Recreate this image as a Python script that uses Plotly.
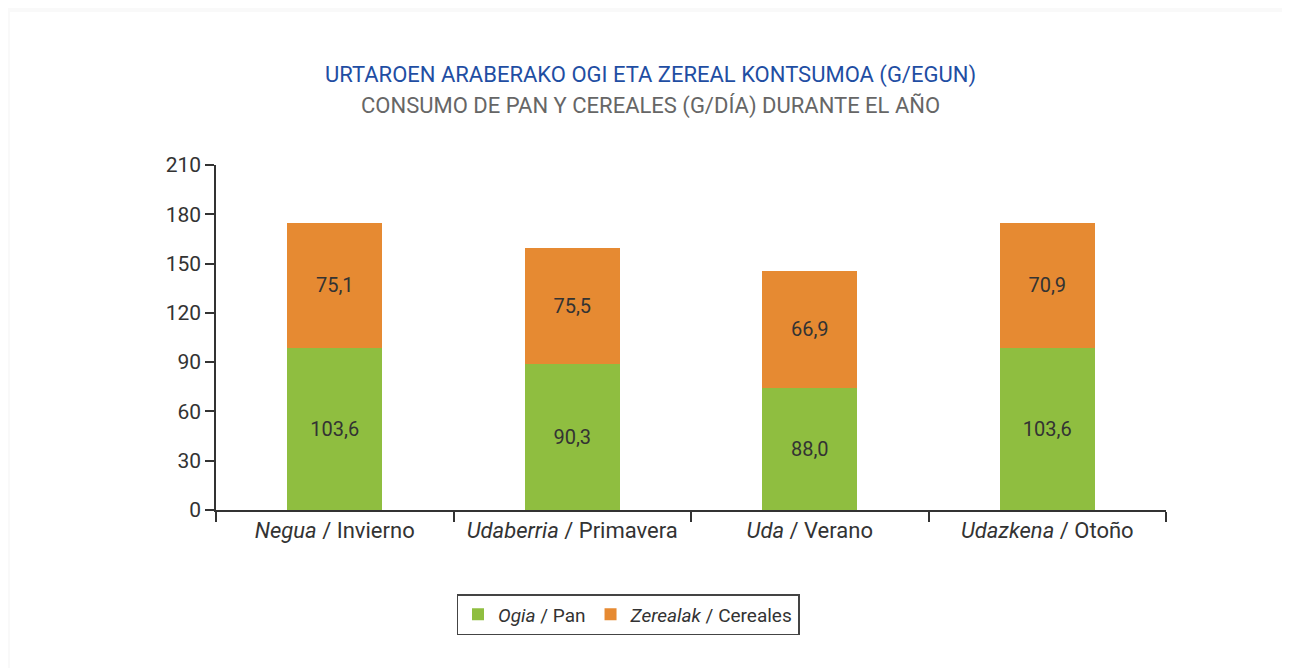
import plotly.graph_objects as go

categories = ["Negua", "Udaberria", "Uda", "Udazkena"]
categories_es = ["Invierno", "Primavera", "Verano", "Otoño"]
# bar heights as drawn in the picture
pan_values = [98.8, 89.0, 74.4, 98.8]
cereales_values = [76.1, 70.5, 71.1, 76.1]
# printed labels
pan_labels = ["103,6", "90,3", "88,0", "103,6"]
cereales_labels = ["75,1", "75,5", "66,9", "70,9"]
y_ticks = [0, 30, 60, 90, 120, 150, 180, 210]

GREEN = "#8fbe40"
ORANGE = "#e68a32"
FONT = "Roboto"

OFF = 8  # page body margin
W, H = 1290, 668
# plot area in screen pixels of the reference
L, R, T, B = 216, 1166, 165, 510
def px(x):
    return (x - L) / (R - L)
def py(y):
    return (B - y) / (B - T)

ticktext = [f"<i>{c}</i> / {e}" for c, e in zip(categories, categories_es)]

fig = go.Figure()
fig.add_trace(go.Bar(
    x=categories, y=pan_values, name="<i>Ogia</i> / Pan",
    marker=dict(color=GREEN, line=dict(width=0)),
    text=pan_labels, textposition="inside", insidetextanchor="middle",
    textfont=dict(family=FONT, size=20, color="#333333"),
    hoverinfo="skip",
))
fig.add_trace(go.Bar(
    x=categories, y=cereales_values, name="<i>Zerealak</i> / Cereales",
    marker=dict(color=ORANGE, line=dict(width=0)),
    text=cereales_labels, textposition="inside", insidetextanchor="middle",
    textfont=dict(family=FONT, size=20, color="#333333"),
    hoverinfo="skip",
))

shapes = [
    dict(type="rect", xref="paper", yref="paper",
         x0=px(10), x1=px(1287), y0=py(700), y1=py(12),
         fillcolor="white", line=dict(width=0), layer="below"),
    dict(type="line", xref="paper", yref="paper",
         x0=px(1288.5), x1=px(1288.5), y0=py(700), y1=py(22),
         line=dict(color="#9a9a9a", width=2), layer="below"),
]

annotations = [
    dict(text="URTAROEN ARABERAKO OGI ETA ZEREAL KONTSUMOA (G/EGUN)",
         xref="paper", yref="paper", x=px(650), y=py(75), showarrow=False,
         xanchor="center", yanchor="middle",
         font=dict(family=FONT, size=22, color="#1f4ea3")),
    dict(text="CONSUMO DE PAN Y CEREALES (G/DÍA) DURANTE EL AÑO",
         xref="paper", yref="paper", x=px(650), y=py(106), showarrow=False,
         xanchor="center", yanchor="middle",
         font=dict(family=FONT, size=22, color="#666666")),
]

fig.update_layout(
    width=W, height=H,
    barmode="stack", bargap=0.6,
    paper_bgcolor="#f9f9f9", plot_bgcolor="rgba(0,0,0,0)",
    margin=dict(l=L - OFF, r=W - R + OFF, t=T - OFF, b=H - B + OFF,
                autoexpand=False),
    font=dict(family=FONT, color="#333333"),
    showlegend=True,
    legend=dict(orientation="h", x=px(628), xanchor="center",
                y=py(594), yanchor="top",
                bordercolor="#444444", borderwidth=1.5, bgcolor="white",
                font=dict(family=FONT, size=19, color="#333333"),
                itemwidth=30, traceorder="normal"),
    shapes=shapes, annotations=annotations,
    xaxis=dict(tickmode="array", tickvals=categories, ticktext=ticktext,
               tickson="boundaries", ticks="outside", ticklen=10,
               tickcolor="#333333", tickwidth=1.5,
               showline=True, linecolor="#333333", linewidth=1.5,
               tickfont=dict(family=FONT, size=22, color="#333333"),
               showgrid=False, zeroline=False, fixedrange=True),
    yaxis=dict(range=[0, 210], tickmode="array", tickvals=y_ticks,
               ticks="outside", ticklen=9, tickcolor="#333333", tickwidth=1.5,
               showline=True, linecolor="#333333", linewidth=1.5,
               tickfont=dict(family=FONT, size=21, color="#333333"),
               showgrid=False, zeroline=False, fixedrange=True),
)

fig.write_html("out.html", config={"displayModeBar": False})
